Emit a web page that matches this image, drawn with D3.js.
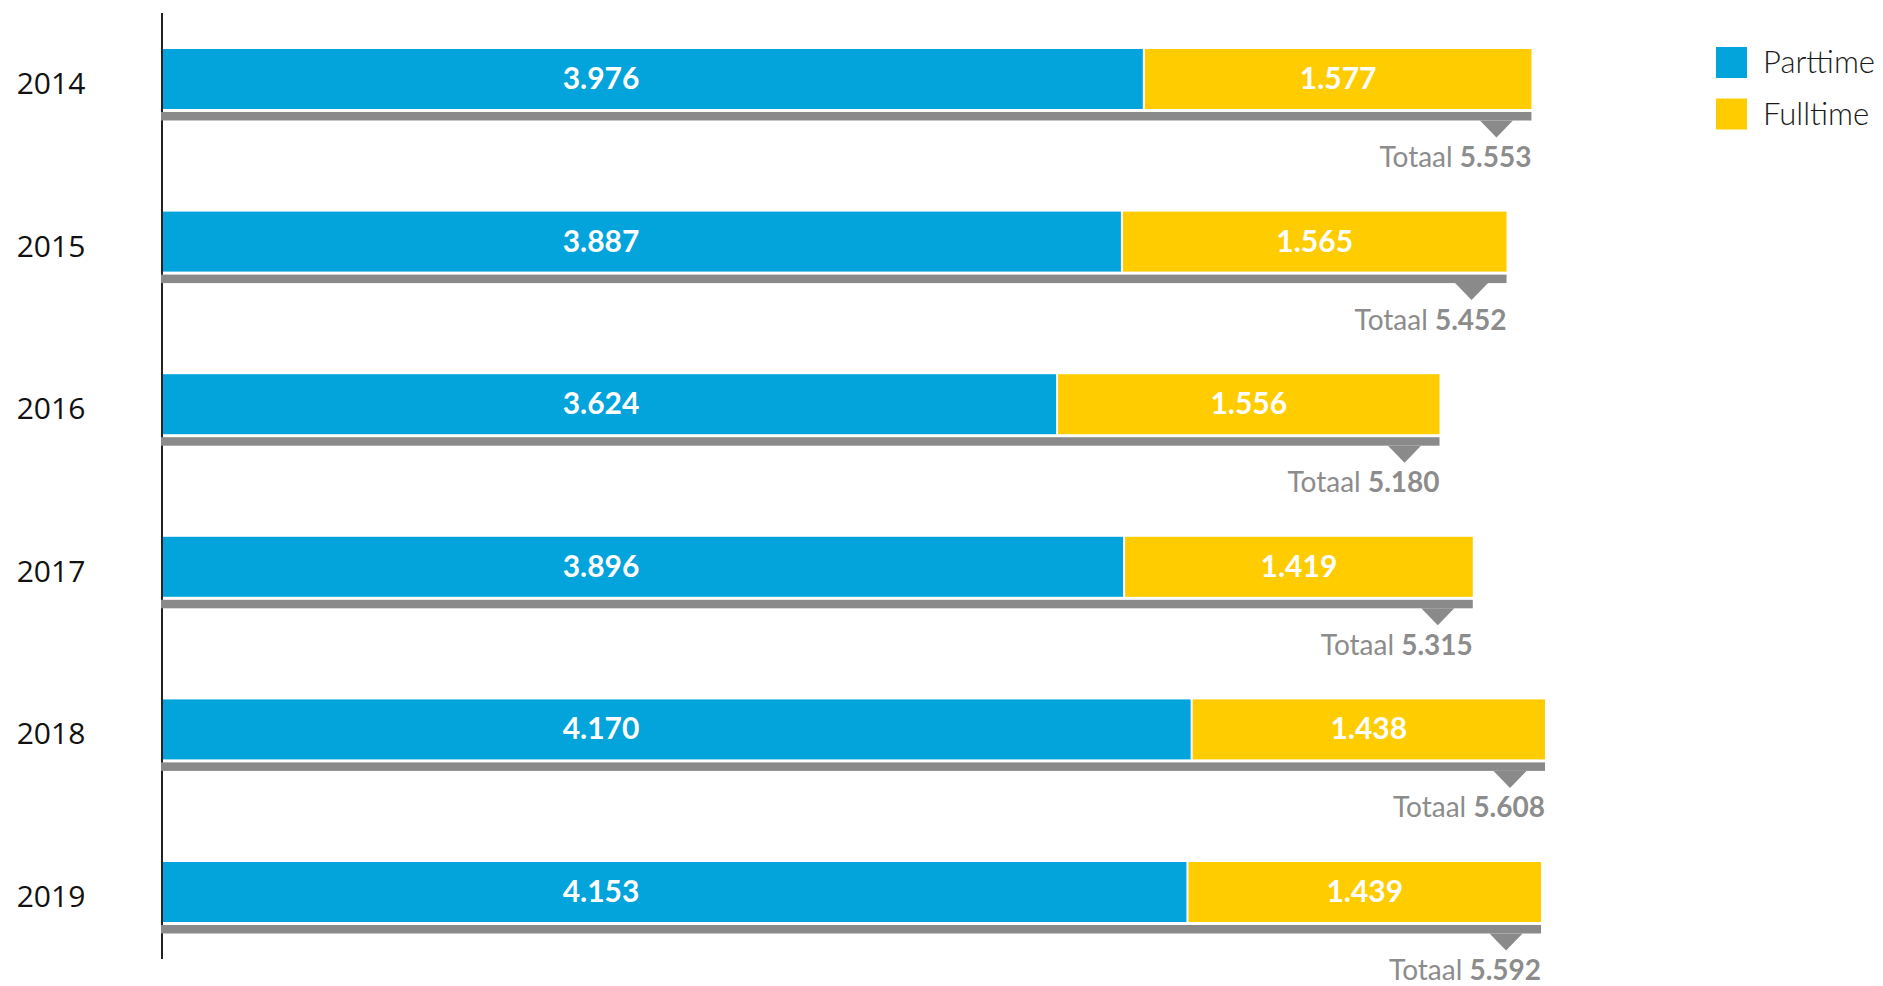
<!DOCTYPE html>
<html>
<head>
<meta charset="utf-8">
<script src="https://cdn.jsdelivr.net/npm/d3@7"></script>
<style>
  html, body { margin: 0; padding: 0; background: #fff; }
  svg { display: block; }
</style>
</head>
<body>
<svg id="chart" width="1883" height="986"></svg>
<script>
// data
const years = ["2014", "2015", "2016", "2017", "2018", "2019"];
const parttime = [3976, 3887, 3624, 3896, 4170, 4153];
const fulltime = [1577, 1565, 1556, 1419, 1438, 1439];
const totals = [5553, 5452, 5180, 5315, 5608, 5592];
const seriesNames = ["Parttime", "Fulltime"];

const blue = "#03a3dc";
const yellow = "#ffcc00";
const grey = "#8a8a8a";

const svg = d3.select("#chart");
const fmt = v => d3.format(",")(v).replace(/,/g, ".");

const data = years.map((y, i) => ({ year: y, p: parttime[i], f: fulltime[i], t: totals[i] }));

const x = d3.scaleLinear()
    .domain([0, 5608])
    .range([163, 1545]);

const y = d3.scaleBand()
    .domain(years)
    .range([49, 922])
    .paddingInner(0.631)
    .paddingOuter(0);

const bh = y.bandwidth();

// vertical axis line
svg.append("line")
    .attr("x1", 162).attr("x2", 162)
    .attr("y1", 13).attr("y2", 959)
    .attr("stroke", "#222")
    .attr("stroke-width", 2);

const rows = svg.selectAll("g.row")
    .data(data)
    .join("g")
    .attr("class", "row");

// grey total bar
rows.append("rect")
    .attr("x", 161)
    .attr("y", d => y(d.year) + bh + 3)
    .attr("width", d => x(d.t) - 161)
    .attr("height", 8.5)
    .attr("fill", grey);

// pointer triangle
rows.append("path")
    .attr("d", d => {
        const cx = x(d.t) - 35, top = y(d.year) + bh + 11.5;
        return `M${cx - 16.5},${top}L${cx + 16.5},${top}L${cx},${top + 17}Z`;
    })
    .attr("fill", grey);

// parttime segment
rows.append("rect")
    .attr("x", x(0))
    .attr("y", d => y(d.year))
    .attr("width", d => x(d.p) - x(0))
    .attr("height", bh)
    .attr("fill", blue);

// fulltime segment
rows.append("rect")
    .attr("x", d => x(d.p) + 2)
    .attr("y", d => y(d.year))
    .attr("width", d => x(d.p + d.f) - x(d.p) - 2)
    .attr("height", bh)
    .attr("fill", yellow);

// value labels
rows.append("text")
    .attr("x", 601)
    .attr("y", d => y(d.year) + 40)
    .attr("text-anchor", "middle")
    .style("font-family", "Lato, sans-serif")
    .style("font-weight", "700")
    .style("font-size", "30px")
    .attr("fill", "#fff")
    .text(d => fmt(d.p));

rows.append("text")
    .attr("x", d => (x(d.p) + x(d.p + d.f)) / 2 + 1)
    .attr("y", d => y(d.year) + 40)
    .attr("text-anchor", "middle")
    .style("font-family", "Lato, sans-serif")
    .style("font-weight", "700")
    .style("font-size", "30px")
    .attr("fill", "#fff")
    .text(d => fmt(d.f));

// totals
const tot = rows.append("text")
    .attr("x", d => x(d.t))
    .attr("y", d => y(d.year) + 118)
    .attr("text-anchor", "end")
    .style("font-family", "Lato, sans-serif")
    .style("font-size", "28px")
    .attr("fill", "#8c8c8c");
tot.append("tspan").text("Totaal ");
tot.append("tspan").style("font-weight", "700").text(d => fmt(d.t));

// year labels
rows.append("text")
    .attr("x", 51)
    .attr("y", d => y(d.year) + bh / 2 + 15)
    .attr("text-anchor", "middle")
    .style("font-family", "'Open Sans', sans-serif")
    .style("font-size", "30px")
    .attr("fill", "#111")
    .text(d => d.year);

// legend
const legend = svg.append("g").attr("transform", "translate(1716,47)");
const lg = legend.selectAll("g")
    .data(seriesNames)
    .join("g")
    .attr("transform", (d, i) => `translate(0,${i * 51.5})`);
lg.append("rect")
    .attr("width", 31)
    .attr("height", 31)
    .attr("fill", (d, i) => i === 0 ? blue : yellow);
lg.append("text")
    .attr("x", 47)
    .attr("y", 26)
    .style("font-family", "Lato, sans-serif")
    .style("font-weight", "300")
    .style("font-size", "31px")
    .attr("fill", "#1a1a1a")
    .text(d => d);
</script>
</body>
</html>
